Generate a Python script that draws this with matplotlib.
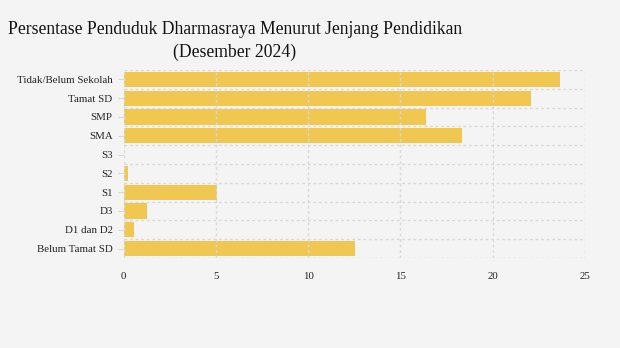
import matplotlib.pyplot as plt

# data (percent of population by education level)
categories = ['Tidak/Belum Sekolah', 'Tamat SD', 'SMP', 'SMA', 'S3', 'S2',
              'S1', 'D3', 'D1 dan D2', 'Belum Tamat SD']
values = [23.62, 22.05, 16.37, 18.32, 0.02, 0.23, 5.05, 1.26, 0.56, 12.52]
x_ticks = [0, 5, 10, 15, 20, 25]

BG = '#f4f4f4'
BAR = '#f0c751'
GRID = '#d9d9d9'

fig = plt.figure(figsize=(6.2, 3.48), dpi=100, facecolor=BG)
ax = fig.add_axes([123.7 / 620, 1 - 258 / 348, (585 - 123.7) / 620, 188 / 348])
ax.set_facecolor(BG)

ypos = list(range(len(categories)))
ax.barh(ypos, values, height=0.8, color=BAR, zorder=1)
ax.set_ylim(len(categories) - 0.5, -0.5)
ax.set_xlim(0, 25)

# dashed grid: vertical at ticks, horizontal at category boundaries
for x in x_ticks:
    ax.axvline(x, color=GRID, linestyle=(0, (2, 2)), linewidth=1, zorder=2)
for i in range(len(categories) + 1):
    ax.axhline(i - 0.5, color=GRID, linestyle=(0, (2, 2)), linewidth=1, zorder=0)

for s in ax.spines.values():
    s.set_visible(False)

ax.set_yticks(ypos)
ax.set_yticklabels(categories, fontsize=7.8, family='Liberation Serif', color='#222222')
ax.tick_params(axis='y', length=4, color=GRID, pad=4)
ax.set_xticks(x_ticks)
ax.set_xticklabels([str(t) for t in x_ticks], fontsize=7.8, family='Liberation Serif',
                   color='#222222')
ax.tick_params(axis='x', length=0, pad=10)

fig.text(235 / 620, 1 - 41 / 348,
         'Persentase Penduduk Dharmasraya Menurut Jenjang Pendidikan\n(Desember 2024)',
         ha='center', va='center', fontsize=12.7, family='Liberation Serif',
         color='#111111', linespacing=1.5)

fig.savefig('out.png', dpi=100, facecolor=BG)
